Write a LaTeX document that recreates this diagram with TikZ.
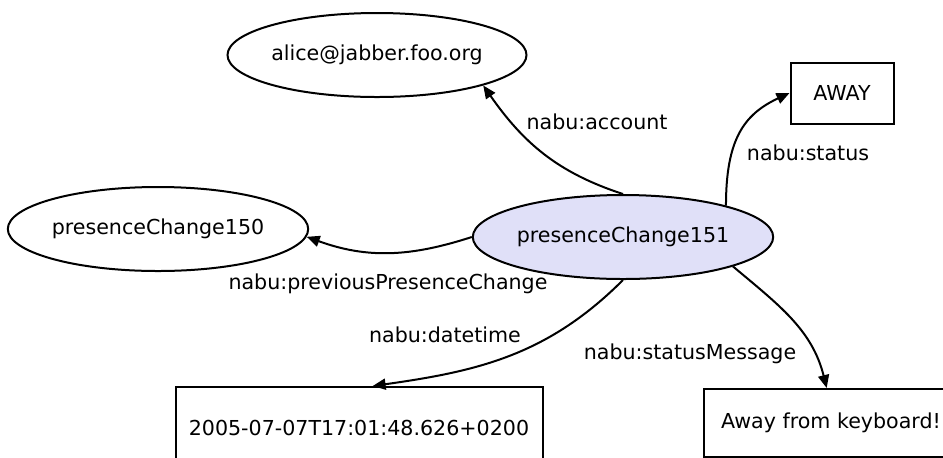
\documentclass[tikz,border=0pt]{standalone}
\usepackage{fontspec}
\setmainfont{DejaVu Sans}
\usepackage{tikz}
\usetikzlibrary{arrows.meta,shapes.geometric}
\definecolor{mainfill}{RGB}{224,224,248}
\tikzset{
    resnode/.style={
        inner sep=0,
        draw,
        ellipse,
        line width=1pt,
        minimum width=149.5pt,
        minimum height=42pt,
    },
    mainnode/.style={
        resnode,
        fill=mainfill,
    },
    litnode/.style={
        inner sep=0,
        draw,
        rectangle,
        line width=1pt,
    },
    propedge/.style={
        line width=1pt,
        -{Triangle[length=6.5pt,width=5.5pt]},
    },
    proplabel/.style={
        inner sep=0,
    },
    every node/.style={
        font=\fontsize{10.3}{12.4}\selectfont,
    },
}

\begin{document}
\begin{tikzpicture}[x=0.5pt,y=0.5pt]
            \clip (0, 0) rectangle (943, -457) ;

            \node[mainnode] at (623, -237) (pc151) {presenceChange151} ;
            \node[resnode] at (377, -55) (alice) {alice@jabber.foo.org} ;
            \node[resnode] at (158, -229) (pc150) {presenceChange150} ;
            \node[litnode, minimum width=51.5pt, minimum height=30.5pt] at (842, -93) (status) {AWAY} ;
            \node[litnode, minimum width=183.5pt, minimum height=41pt] at (359, -428) (datetime) {2005-07-07T17:01:48.626+0200} ;
            \node[litnode, minimum width=127pt, minimum height=34pt] at (831, -423) (message) {Away from keyboard!} ;

            \node[proplabel] at (597, -122) (lacc) {nabu:account} ;
            \node[proplabel] at (808, -153) (lstat) {nabu:status} ;
            \node[proplabel] at (388, -284) (lprev) {nabu:previousPresenceChange} ;
            \node[proplabel] at (445, -335) (ldate) {nabu:datetime} ;
            \node[proplabel] at (690, -354) (lmsg) {nabu:statusMessage} ;

            \draw[propedge] (pc151.north) to[out=162, in=-55] (alice.-16) ;
            \draw[propedge] (pc151.17) to[out=90, in=205, out looseness=1.3] (status.west) ;
            \draw[propedge] (pc151.west) to[out=198, in=-20] (pc150.-3) ;
            \draw[propedge] (pc151.south) to[out=225, in=8] (datetime.72) ;
            \draw[propedge] (pc151.-15) to[out=-40, in=104] (message.97) ;
        \end{tikzpicture}
\end{document}
